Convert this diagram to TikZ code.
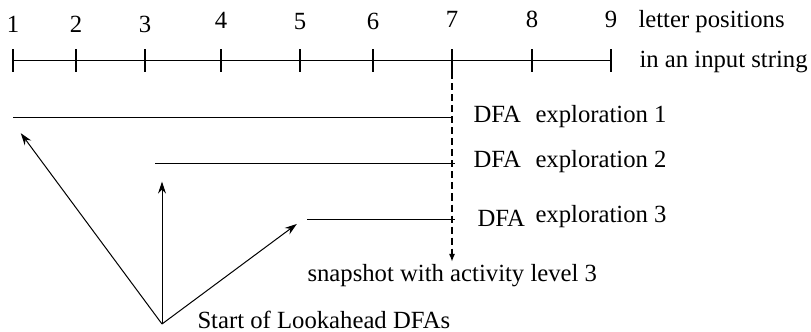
\documentclass[tikz,border=0pt]{standalone}
\usepackage{fontspec}
\setmainfont{Liberation Serif}
\usetikzlibrary{arrows.meta}

\begin{document}
\begin{tikzpicture}[scale=0.7, line width=0.5pt,
    every node/.style={font=\fontsize{12.3}{14}\selectfont, inner sep=0pt},
    txt/.style={anchor=base west}]
  \useasboundingbox (0,0) rectangle (20.275,8.3);

  % Letter positions axis
  \coordinate (P1) at (0.325,6.775);
  \coordinate (P9) at (15.275,6.775);
  \draw (P1) -- (P9);
  \foreach \i/\x/\b in {1/0.325/7.475, 2/1.9/7.475, 3/3.625/7.475,
                        4/5.525/7.575, 5/7.5/7.55, 6/9.325/7.55,
                        7/11.3/7.6, 8/13.3/7.6, 9/15.275/7.6} {
    \draw (\x,6.5) -- (\x,7.075);
    \node[anchor=base] (n\i) at (\x,\b) {\i};
  }
  \node[txt] (pos) at (15.95,7.6) {letter positions};
  \node[txt] (inp) at (15.975,6.6) {in an input string};

  % Explorations started at positions 1, 3 and 5
  \coordinate (E1) at (0.325,5.35);
  \coordinate (F1) at (11.3,5.35);
  \coordinate (E2) at (3.875,4.2);
  \coordinate (F2) at (11.375,4.2);
  \coordinate (E3) at (7.675,2.8);
  \coordinate (F3) at (11.375,2.8);
  \draw (E1) -- (F1);
  \draw (E2) -- (F2);
  \draw (E3) -- (F3);

  \node[txt] (dfa1) at (11.825,5.225) {DFA};
  \node[txt] (exp1) at (13.375,5.225) {exploration 1};
  \node[txt] (dfa2) at (11.825,4.1) {DFA};
  \node[txt] (exp2) at (13.375,4.1) {exploration 2};
  \node[txt] (dfa3) at (11.925,2.625) {DFA};
  \node[txt] (exp3) at (13.375,2.725) {exploration 3};

  % Snapshot at position 7
  \coordinate (S7) at (11.3,6.5);
  \coordinate (S0) at (11.3,1.75);
  \draw[line width=0.9pt, dash pattern=on 3.5pt off 2pt,
        -{Latex[length=4pt,width=3pt]}] (S7) -- (S0);
  \node[txt] (snap) at (7.675,1.25) {snapshot with activity level 3};

  % Starting points of the lookahead DFAs
  \coordinate (O) at (4.05,0.2);
  \coordinate (A1) at (0.52,4.97);
  \coordinate (A2) at (4.05,3.76);
  \coordinate (A3) at (7.42,2.7);
  \foreach \t in {A1,A2,A3}
    \draw[-{Stealth[length=6pt,width=4pt,inset=2pt]}] (O) -- (\t);
  \node[txt] (start) at (4.925,0.075) {Start of Lookahead DFAs};
\end{tikzpicture}
\end{document}
